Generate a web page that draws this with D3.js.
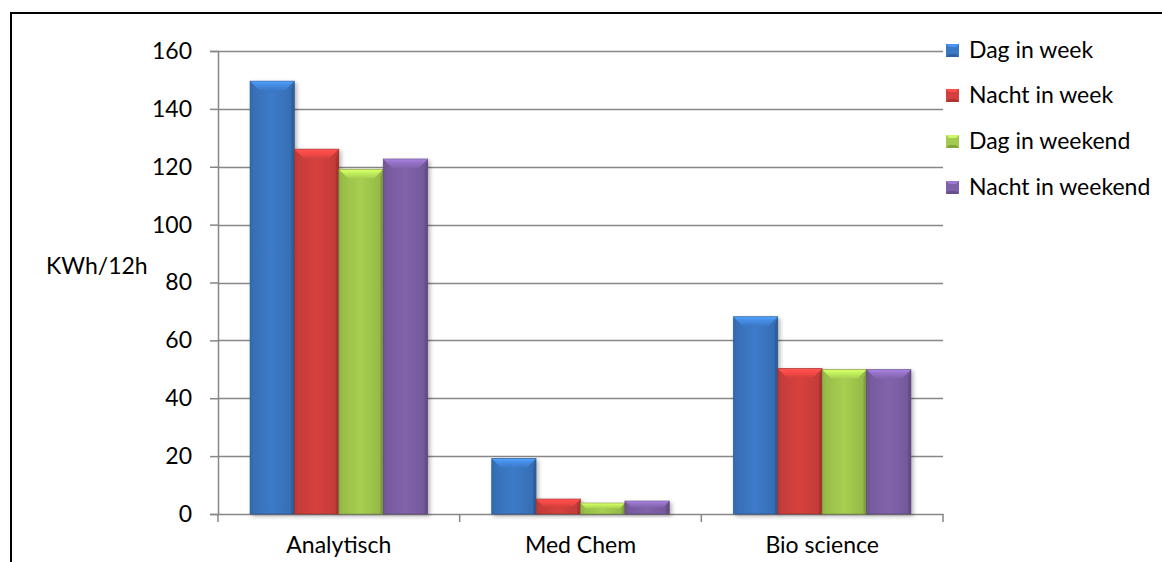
<!DOCTYPE html>
<html>
<head>
<meta charset="utf-8">
<script src="https://cdn.jsdelivr.net/npm/d3@7"></script>
<style>
  html, body { margin: 0; padding: 0; background: #fff; }
  svg { display: block; font-family: Lato, "Open Sans", sans-serif; }
</style>
</head>
<body>
<svg id="chart" width="1162" height="562"></svg>
<script>
// Energy use per department, kWh per 12 hours
const categories = ["Analytisch", "Med Chem", "Bio science"];
const seriesNames = ["Dag in week", "Nacht in week", "Dag in weekend", "Nacht in weekend"];
const dagInWeek = [149.6, 19.2, 68.2];
const nachtInWeek = [126.1, 5.2, 50.3];
const dagInWeekend = [119.1, 3.8, 49.9];
const nachtInWeekend = [122.7, 4.5, 49.9];
const yTicks = [0, 20, 40, 60, 80, 100, 120, 140, 160];
const yLabel = "KWh/12h";

const seriesValues = [dagInWeek, nachtInWeek, dagInWeekend, nachtInWeekend];
const colors = ["#3b78c4", "#d3403d", "#a4cb4f", "#7f61a9"];
const FONT = 23;

const svg = d3.select("#chart");
const plot = { left: 218, right: 943, top: 51, bottom: 514 };

// frame around the chart area
svg.append("path")
  .attr("d", `M11,562 V13 H1162`)
  .attr("fill", "none").attr("stroke", "#000").attr("stroke-width", 2);

const y = d3.scaleLinear().domain([0, 160]).range([plot.bottom, plot.top]);
const x0 = d3.scaleBand().domain(categories).range([plot.left, plot.right]).padding(0);
const x1 = d3.scaleBand().domain(seriesNames).range([32, x0.bandwidth() - 32]).padding(0);

const defs = svg.append("defs");
const shadow = defs.append("filter").attr("id", "shadow")
  .attr("x", "-20%").attr("y", "-20%").attr("width", "150%").attr("height", "150%");
shadow.append("feDropShadow").attr("dx", 2).attr("dy", 2).attr("stdDeviation", 2)
  .attr("flood-color", "#000").attr("flood-opacity", 0.3);

colors.forEach((c, i) => {
  const base = d3.color(c);
  const g = defs.append("linearGradient").attr("id", "grad" + i)
    .attr("x1", 0).attr("x2", 1).attr("y1", 0).attr("y2", 0);
  g.append("stop").attr("offset", "0%").attr("stop-color", base.darker(0.25));
  g.append("stop").attr("offset", "50%").attr("stop-color", base.brighter(0.05));
  g.append("stop").attr("offset", "100%").attr("stop-color", base.darker(0.3));
  const t = defs.append("linearGradient").attr("id", "top" + i)
    .attr("x1", 0).attr("x2", 0).attr("y1", 0).attr("y2", 1);
  t.append("stop").attr("offset", "0%").attr("stop-color", base.brighter(0.9));
  t.append("stop").attr("offset", "35%").attr("stop-color", base.brighter(0.5));
  t.append("stop").attr("offset", "100%").attr("stop-color", base.brighter(0.05));
});

// gridlines
svg.append("g").selectAll("line").data(yTicks.filter(t => t > 0)).join("line")
  .attr("x1", plot.left).attr("x2", plot.right)
  .attr("y1", d => Math.round(y(d)) + 0.5).attr("y2", d => Math.round(y(d)) + 0.5)
  .attr("stroke", "#878787").attr("stroke-width", 1.5);

// y axis
const yAxis = svg.append("g")
  .attr("transform", `translate(${plot.left},0)`)
  .call(d3.axisLeft(y).tickValues(yTicks).tickSize(8).tickPadding(18).tickFormat(d3.format("d")));
yAxis.select(".domain").attr("stroke", "#878787").attr("stroke-width", 1.5);
yAxis.selectAll(".tick line").attr("stroke", "#878787").attr("stroke-width", 1.5);
yAxis.selectAll(".tick text").attr("font-size", FONT).attr("fill", "#000")
  .attr("font-family", "Lato, sans-serif");

// x axis
const xAxis = svg.append("g")
  .attr("transform", `translate(0,${plot.bottom})`)
  .call(d3.axisBottom(x0).tickSize(0).tickPadding(23));
xAxis.select(".domain").attr("stroke", "#878787").attr("stroke-width", 1.5);
xAxis.selectAll(".tick text").attr("font-size", FONT).attr("fill", "#000")
  .attr("font-family", "Lato, sans-serif");
const bounds = categories.map(c => x0(c)).concat([x0(categories[categories.length - 1]) + x0.bandwidth()]);
xAxis.selectAll(".bound").data(bounds).join("line").attr("class", "bound")
  .attr("x1", d => d).attr("x2", d => d).attr("y1", 0).attr("y2", 8)
  .attr("stroke", "#878787").attr("stroke-width", 1.5);

// y label
svg.append("text").attr("x", 46).attr("y", 274).attr("font-size", FONT).text(yLabel);

// bars with beveled look
function drawBevelBar(g, bx, by, w, h, idx) {
  const base = d3.color(colors[idx]);
  const b = Math.min(9, h / 2);
  const s = Math.min(3, h / 3);
  const grp = g.append("g").attr("filter", "url(#shadow)");
  grp.append("rect").attr("x", bx).attr("y", by).attr("width", w).attr("height", h)
    .attr("fill", `url(#grad${idx})`);
  // left edge
  grp.append("path")
    .attr("d", `M${bx},${by} L${bx + s},${by + b} V${by + h} H${bx} Z`)
    .attr("fill", base.darker(0.35)).attr("opacity", 0.6);
  // right edge
  grp.append("path")
    .attr("d", `M${bx + w},${by} L${bx + w - s},${by + b} V${by + h} H${bx + w} Z`)
    .attr("fill", base.darker(0.8)).attr("opacity", 0.7);
  // top bevel
  grp.append("path")
    .attr("d", `M${bx},${by} H${bx + w} L${bx + w - b},${by + b} H${bx + b} Z`)
    .attr("fill", `url(#top${idx})`);
  grp.append("rect").attr("x", bx).attr("y", by).attr("width", w).attr("height", h)
    .attr("fill", "none").attr("stroke", base.darker(1.2)).attr("stroke-width", 0.8)
    .attr("stroke-opacity", 0.6);
}

const barsG = svg.append("g");
categories.forEach((cat, ci) => {
  seriesNames.forEach((name, si) => {
    const v = seriesValues[si][ci];
    const bx = x0(cat) + x1(name);
    const by = y(v);
    drawBevelBar(barsG, bx, by, x1.bandwidth(), y(0) - by, si);
  });
});

// legend
const legend = svg.append("g");
const legendRows = [50, 95, 141, 187];
seriesNames.forEach((name, i) => {
  const row = legend.append("g").attr("transform", `translate(946,${legendRows[i]})`);
  const base = d3.color(colors[i]);
  row.append("rect").attr("x", 0).attr("y", -6).attr("width", 13).attr("height", 13)
    .attr("fill", colors[i]);
  row.append("path").attr("d", "M0,-6 H13 L10,-3 H3 Z").attr("fill", base.brighter(0.6));
  row.append("path").attr("d", "M0,7 H13 L10,4 H3 Z").attr("fill", base.darker(0.6));
  row.append("text").attr("x", 23).attr("y", 0).attr("dy", "0.35em")
    .attr("font-size", FONT).text(name);
});
</script>
</body>
</html>
